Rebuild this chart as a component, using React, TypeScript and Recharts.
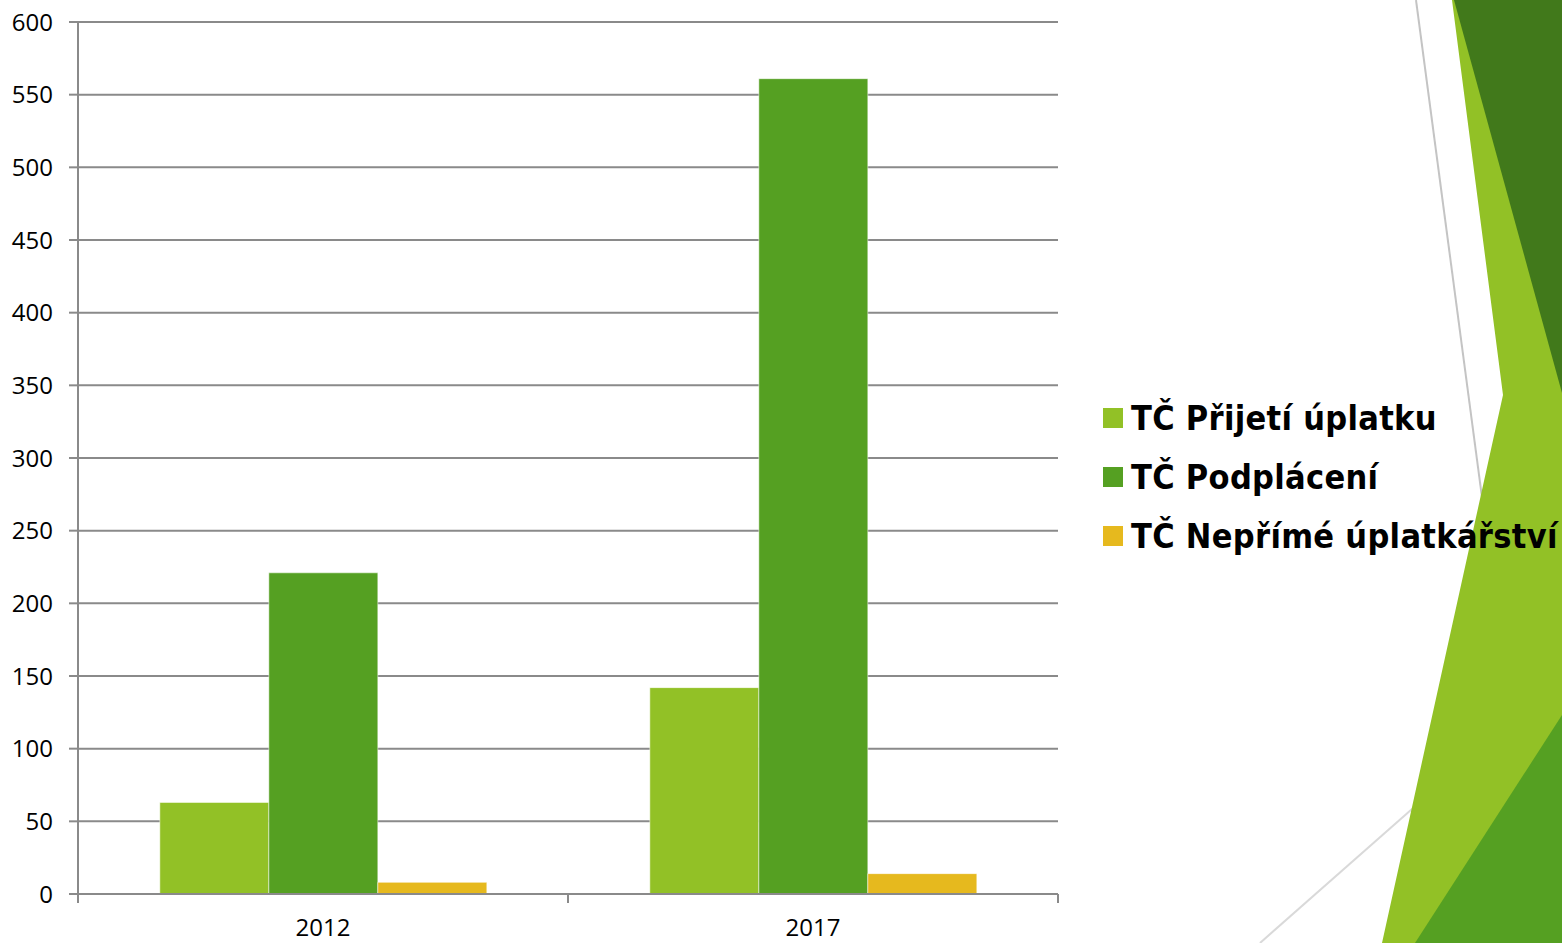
import React from "react";
import { BarChart, Bar, XAxis, YAxis, CartesianGrid, Legend } from "recharts";

const categories = ["2012", "2017"];
const prijeti = [63, 142];
const podplaceni = [221, 561];
const neprime = [8, 14];
const yTicks = [0, 50, 100, 150, 200, 250, 300, 350, 400, 450, 500, 550, 600];

const seriesNames = ["TČ Přijetí úplatku", "TČ Podplácení", "TČ Nepřímé úplatkářství"];
const seriesColors = ["#92c126", "#55a022", "#e6b91e"];

const data = categories.map((c, i) => ({
  year: c,
  a: prijeti[i],
  b: podplaceni[i],
  c: neprime[i],
}));

const GRID = "#8a8a8a";
const AXIS_FONT = "'Open Sans', sans-serif";

const XTick = (props: any) => {
  const { x, y, payload } = props;
  const off = payload && payload.offset ? payload.offset : 0;
  const top = y - 16 - 9;
  return (
    <g>
      <line x1={x - off} y1={top} x2={x - off} y2={top + 9} stroke={GRID} strokeWidth={2} />
      <line x1={x + off} y1={top} x2={x + off} y2={top + 9} stroke={GRID} strokeWidth={2} />
      <text x={x} y={y} dy="0.71em" textAnchor="middle" fill="#000" fontSize={24} fontFamily={AXIS_FONT}>
        {payload.value}
      </text>
    </g>
  );
};

const LegendContent = () => (
  <div style={{ width: 470, fontFamily: "'DejaVu Sans Condensed', 'DejaVu Sans', sans-serif", fontWeight: "bold", fontSize: 34, letterSpacing: 0.3, color: "#000" }}>
    {seriesNames.map((n, i) => (
      <div key={n} style={{ display: "flex", alignItems: "center", height: 59, whiteSpace: "nowrap" }}>
        <span style={{ display: "inline-block", flexShrink: 0, width: 20, height: 20, background: seriesColors[i], marginRight: 8 }} />
        <span>{n}</span>
      </div>
    ))}
  </div>
);

const Decoration = () => (
  <svg width={1562} height={943} viewBox="0 0 1562 943" style={{ position: "absolute", left: 0, top: 0 }}>
    <line x1={1416} y1={0} x2={1485} y2={520} stroke="#c4c4c4" strokeWidth={2} />
    <line x1={1260} y1={943} x2={1420} y2={802} stroke="#d9d9d9" strokeWidth={2} />
    <polygon points="1452,0 1562,0 1562,943 1382,943 1503,395" fill="#92c126" />
    <polygon points="1454,0 1562,0 1562,393" fill="#41791b" />
    <polygon points="1415,943 1562,715 1562,943" fill="#55a022" />
  </svg>
);

export default function App() {
  return (
    <div style={{ position: "absolute", left: 0, top: 0, width: 1562, height: 943, background: "#fff", overflow: "hidden" }}>
      <Decoration />
      <div style={{ position: "absolute", left: 0, top: 0 }}>
        <BarChart
          width={1562}
          height={943}
          data={data}
          margin={{ top: 22, right: 504, bottom: 0, left: 0 }}
          barCategoryGap="16.7%"
          barGap={0}
        >
          <CartesianGrid vertical={false} stroke={GRID} strokeWidth={2} />
          <XAxis
            dataKey="year"
            height={49}
            axisLine={{ stroke: GRID, strokeWidth: 2 }}
            tickLine={false}
            tickSize={9}
            tickMargin={16}
            tick={<XTick />}
            interval={0}
          />
          <YAxis
            width={78}
            domain={[0, 600]}
            ticks={yTicks}
            interval={0}
            axisLine={{ stroke: GRID, strokeWidth: 2 }}
            tickLine={{ stroke: GRID, strokeWidth: 2 }}
            tickSize={9}
            tickMargin={16}
            tick={{ fill: "#000", fontSize: 24, fontFamily: AXIS_FONT }}
          />
          <Bar dataKey="a" name={seriesNames[0]} fill={seriesColors[0]} stroke="rgba(255,255,255,0.5)" strokeWidth={1} isAnimationActive={false} />
          <Bar dataKey="b" name={seriesNames[1]} fill={seriesColors[1]} stroke="rgba(255,255,255,0.5)" strokeWidth={1} isAnimationActive={false} />
          <Bar dataKey="c" name={seriesNames[2]} fill={seriesColors[2]} stroke="rgba(255,255,255,0.5)" strokeWidth={1} isAnimationActive={false} />
          <Legend
            content={<LegendContent />}
            wrapperStyle={{ position: "absolute", left: 1103, top: 388, width: 0, height: 0, overflow: "visible" }}
          />
        </BarChart>
      </div>
    </div>
  );
}
